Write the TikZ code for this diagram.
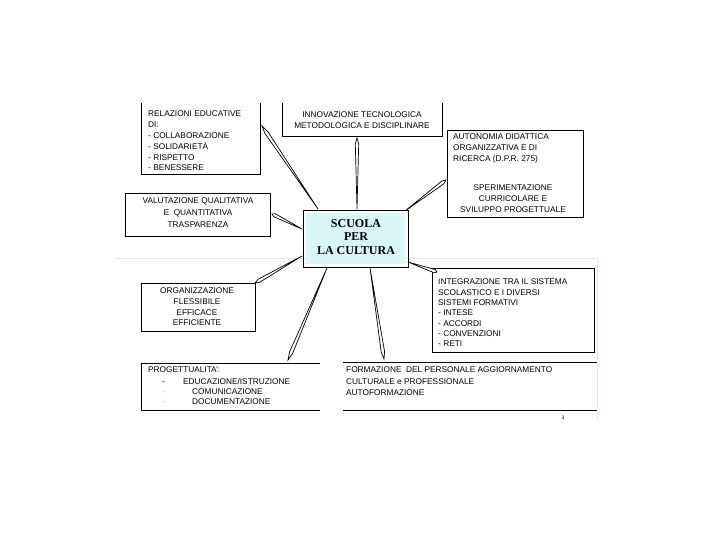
\documentclass[tikz,border=0pt]{standalone}
\usepackage{fontspec}
\setmainfont{Liberation Sans}
\newfontfamily\titlefont{Liberation Serif}
\usetikzlibrary{calc}

\definecolor{paleblue}{RGB}{218,246,248}
\definecolor{palegreen}{RGB}{214,236,214}

\tikzset{
  frame/.style={draw=black, line width=0.6pt},
  label/.style={inner sep=0pt, font=\fontsize{8.3}{10.8}\selectfont},
  spike/.style={draw=black, fill=white, line width=0.7pt, line join=miter},
}
\newcommand{\spike}[2]{\filldraw[spike] (#1) -- ($(#1)!0.92!(#2)!1.7pt!90:(#2)$) -- (#2) -- ($(#1)!0.92!(#2)!1.7pt!-90:(#2)$) -- cycle;}

\begin{document}
\begin{tikzpicture}[x=1pt,y=-1pt]
\useasboundingbox (0,0) rectangle (720,540);
\begin{scope}
\clip (0,104) rectangle (720,540);

% slide frame
\draw[palegreen, line width=0.6pt] (115,258) -- (597,258) -- (597,418);

% centre
\draw[frame] (303,210) rectangle (408,267);
\fill[paleblue] (306,213) rectangle (405,264);
\node[inner sep=0pt, align=center, font=\titlefont\bfseries\fontsize{12}{13.5}\selectfont] (scuola) at (356,237) {SCUOLA\\PER\\LA CULTURA};

% boxes
\draw[frame] (141,98) rectangle (260,174);
\node[label, anchor=north west, align=left] (relazioni) at (148,111) {RELAZIONI EDUCATIVE\\DI:\\- COLLABORAZIONE\\- SOLIDARIET\`A\\- RISPETTO\\- BENESSERE};

\draw[frame] (282,98) rectangle (442,136);
\node[label, anchor=north, align=center] (innovazione) at (362,112) {INNOVAZIONE TECNOLOGICA\\METODOLOGICA E DISCIPLINARE};

\draw[frame] (447,130) rectangle (583,217);
\node[label, anchor=north west, align=left] (autonomia) at (453,134) {AUTONOMIA DIDATTICA\\ORGANIZZATIVA E DI\\RICERCA (D.P.R. 275)};
\node[label, anchor=north, align=center] (sperimentazione) at (513,185) {SPERIMENTAZIONE\\CURRICOLARE E\\SVILUPPO PROGETTUALE};

\draw[frame] (125,193) rectangle (270,236);
\node[label, anchor=north, align=center, font=\fontsize{8.3}{11.8}\selectfont] (valutazione) at (198,198) {VALUTAZIONE QUALITATIVA\\E\ \ QUANTITATIVA\\TRASPARENZA};

\draw[frame] (141,283) rectangle (255,331);
\node[label, anchor=north, align=center, font=\fontsize{8.3}{10.6}\selectfont] (organizzazione) at (197,288) {ORGANIZZAZIONE\\FLESSIBILE\\EFFICACE\\EFFICIENTE};

\draw[frame] (432,268) rectangle (594,352);
\node[label, anchor=north west, align=left, font=\fontsize{8.3}{10.3}\selectfont] (integrazione) at (438,279) {INTEGRAZIONE TRA IL SISTEMA\\SCOLASTICO E I DIVERSI\\SISTEMI FORMATIVI\\- INTESE\\- ACCORDI\\- CONVENZIONI\\- RETI};

\draw[frame] (320,363) -- (141,363) -- (141,410) -- (320,410);
\node[label, anchor=base west] (progettualita) at (148,372.5) {PROGETTUALITA':};
\node[label, anchor=base west] (dashA) at (162,384.5) {-};
\node[label, anchor=base west] (educazione) at (183,384.5) {EDUCAZIONE/ISTRUZIONE};
\node[label, anchor=base west, text=black!25] (dashB) at (162,394.5) {-};
\node[label, anchor=base west] (comunicazione) at (192,394.5) {COMUNICAZIONE};
\node[label, anchor=base west, text=black!25] (dashC) at (162,404.5) {-};
\node[label, anchor=base west] (documentazione) at (192,404.5) {DOCUMENTAZIONE};

\draw[frame] (343,362) -- (597,362);
\draw[frame] (343,410) -- (597,410);
\node[label, anchor=north west, align=left, font=\fontsize{8.3}{11.5}\selectfont] (formazione) at (346,367) {FORMAZIONE\ \ DEL PERSONALE AGGIORNAMENTO\\CULTURALE e PROFESSIONALE\\AUTOFORMAZIONE};
\node[inner sep=0pt, font=\fontsize{5}{6}\selectfont] (pagina) at (563,418) {3};

% spikes from the centre
\coordinate (s1) at (318,209); \coordinate (e1) at (262,126);
\coordinate (s2) at (357,209); \coordinate (e2) at (357,138);
\coordinate (s3) at (405,211); \coordinate (e3) at (446,180);
\coordinate (s4) at (302,229); \coordinate (e4) at (272,214);
\coordinate (s5) at (408,262); \coordinate (e5) at (437,272);
\coordinate (s6) at (302,256); \coordinate (e6) at (255,283);
\coordinate (s7) at (327,268); \coordinate (e7) at (288,360);
\coordinate (s8) at (370,268); \coordinate (e8) at (384,359);

\foreach \i in {1,...,8}{\spike{s\i}{e\i}}
\end{scope}
\end{tikzpicture}
\end{document}
